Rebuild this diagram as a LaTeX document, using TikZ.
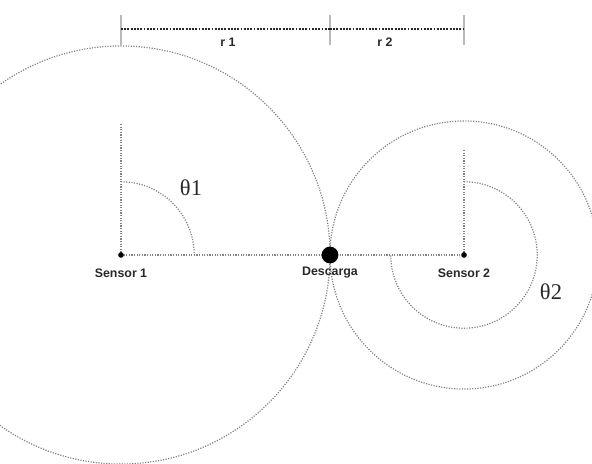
\documentclass[tikz,border=0pt]{standalone}
\usepackage{fontspec}
\setsansfont{Liberation Sans}
\newfontfamily\thetafont{Liberation Serif}
\usepackage{xcolor}
\definecolor{guidegray}{RGB}{130,130,130}
\definecolor{tickgray}{RGB}{185,185,185}
\definecolor{labeltext}{RGB}{40,40,40}
\usetikzlibrary{positioning}

\begin{document}
\begin{tikzpicture}[
  x=0.025cm, y=-0.025cm,
  guide/.style={draw=guidegray, densely dotted, line width=0.85pt},
  scalebar/.style={draw=labeltext, densely dotted, line width=1.3pt},
  tickline/.style={draw=tickgray, line width=1.4pt},
  sensor/.style={circle, fill=black, inner sep=0pt, minimum size=4pt},
  discharge/.style={circle, fill=black, inner sep=0pt, minimum size=0.42cm},
  tag/.style={font=\sffamily\bfseries\fontsize{8.8}{10}\selectfont, text=labeltext, inner sep=1pt},
  angletag/.style={font=\thetafont\fontsize{16}{18}\selectfont, text=labeltext, inner sep=0pt}
]
\useasboundingbox (0,0) rectangle (592,464);
\clip (0,0) rectangle (592,464);

% positions
\coordinate (S1) at (121,255);
\coordinate (D) at (330,255);
\coordinate (S2) at (464,255);
\coordinate (S1up) at (121,124);
\coordinate (S2up) at (464,150);

% range circles
\draw[guide] (S1) circle (5.225cm);
\draw[guide] (S2) circle (3.35cm);

% baseline and verticals
\draw[guide] (S1) -- (S2);
\draw[guide] (S1up) -- (S1);
\draw[guide] (S2up) -- (S2);

% angles
\draw[guide] (S1) ++(90:1.83cm) arc[start angle=90, end angle=0, radius=1.83cm];
\draw[guide] (S2) ++(90:1.83cm) arc[start angle=90, end angle=-180, radius=1.83cm];
\node[angletag] (th1) at (191,188) {θ1};
\node[angletag] (th2) at (551,292) {θ2};

% scale bar
\coordinate (b1) at (121,29);
\coordinate (b2) at (330,29);
\coordinate (b3) at (464,29);
\draw[tickline] (121,15) -- (121,45);
\draw[tickline] (330,15) -- (330,45);
\draw[tickline] (464,15) -- (464,45);
\draw[scalebar] (b1) -- (b2);
\draw[scalebar] (b2) -- (b3);
\node[tag] (r1) at (228,42) {r 1};
\node[tag] (r2) at (385,42) {r 2};

% points
\node[sensor] (s1) at (S1) {};
\node[sensor] (s2) at (S2) {};
\node[discharge] (desc) at (D) {};
\node[tag, below=0.22cm of s1] (s1tag) {Sensor 1};
\node[tag, below=1pt of desc] (desctag) {Descarga};
\node[tag, below=0.22cm of s2] (s2tag) {Sensor 2};
\end{tikzpicture}
\end{document}
